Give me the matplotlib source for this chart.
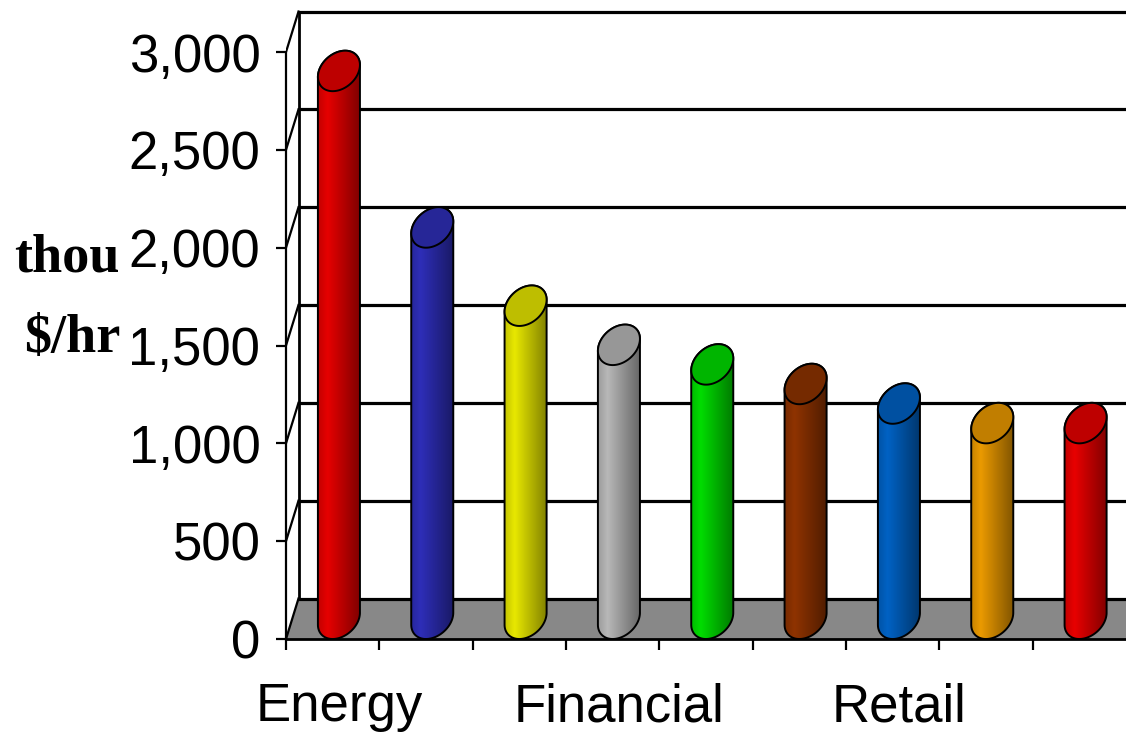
import numpy as np
import matplotlib.pyplot as plt
from matplotlib.patches import Polygon
from matplotlib.colors import to_rgb

# downtime cost per hour by industry (thousand $/hr)
categories = ['Energy', 'Telecom', 'Manufacturing', 'Financial', 'IT',
              'Insurance', 'Retail', 'Pharma', 'Banking']
values = [2800, 2000, 1600, 1400, 1300, 1200, 1100, 1000, 1000]
colors = ['#e60000', '#2e2eb8', '#e8e800', '#b8b8b8', '#00dd00',
          '#8f3300', '#0062c4', '#eb9a00', '#e80000']
shown_labels = ['Energy', 'Financial', 'Retail']
yticks = [0, 500, 1000, 1500, 2000, 2500, 3000]

plt.rcParams['font.family'] = ['Liberation Sans', 'DejaVu Sans']

W, H = 1126, 741
fig = plt.figure(figsize=(W / 100, H / 100), dpi=100)
ax = fig.add_axes([286 / W, (H - 639) / H, (W - 286) / W, 639 / H])

n = len(values)
xmax = 9.0
ymax = 3266
DX, DY = 0.134, 207      # depth offset of the back wall, in data units
RX = 0.215               # cylinder radius along x

# floor
ax.add_patch(Polygon([(0, 0), (xmax + 1, 0), (xmax + 1 + DX, DY), (DX, DY)],
                     closed=True, fc='#888888', ec='none', zorder=1))

# back wall + side wall grid
for v in yticks:
    ax.plot([DX, xmax + 1], [v + DY, v + DY], color='black', lw=2.3, zorder=2)
    ax.plot([0, DX], [v, v + DY], color='black', lw=1.6, zorder=2)
ax.plot([DX, DX], [DY, yticks[-1] + DY], color='black', lw=2.0, zorder=2)


def ellipse(cx, cy, t):
    return cx + RX * np.cos(t) + 0.5 * DX * np.sin(t), cy + 0.5 * DY * np.sin(t)


tR = np.arctan2(0.5 * DX, RX)
hw = np.hypot(RX, 0.5 * DX)
u = np.linspace(0, 1, 64)
shade = np.interp(u, [0, 0.22, 1], [0.85, 1.0, 0.55])

for i, (v, c) in enumerate(zip(values, colors)):
    cx = i + 0.5 + DX / 2
    rgb = np.array(to_rgb(c))
    bx, by = ellipse(cx, 0.5 * DY, np.linspace(tR + np.pi, tR + 2 * np.pi, 60))
    tx, ty = ellipse(cx, v + 0.5 * DY, np.linspace(tR, tR + np.pi, 60))
    pts = np.column_stack([np.r_[bx, tx], np.r_[by, ty]])
    body = Polygon(pts, closed=True, fc=c, ec='none', zorder=3)
    ax.add_patch(body)
    grad = np.clip(rgb[None, None, :] * shade[None, :, None], 0, 1)
    im = ax.imshow(grad, extent=(cx - hw, cx + hw, 0, v + DY), aspect='auto',
                   interpolation='bilinear', zorder=3.1)
    im.set_clip_path(body)
    ax.add_patch(Polygon(pts, closed=True, fc='none', ec='black', lw=1.4, zorder=3.2))
    ex, ey = ellipse(cx, v + 0.5 * DY, np.linspace(0, 2 * np.pi, 100))
    ax.add_patch(Polygon(np.column_stack([ex, ey]), closed=True,
                         fc=tuple(rgb * 0.82), ec='black', lw=1.4, zorder=3.3))

ax.set_xlim(0, xmax)
ax.set_ylim(0, ymax)

for s in ['top', 'right']:
    ax.spines[s].set_visible(False)
ax.spines['left'].set_bounds(0, yticks[-1])
ax.spines['left'].set_linewidth(1.6)
ax.spines['bottom'].set_linewidth(2.0)

ax.set_yticks(yticks, labels=[f'{v:,}' for v in yticks])
ax.tick_params(axis='y', length=7.5, width=1.6, pad=11, labelsize=38)

ax.set_xticks(range(n))
ax.set_xticklabels([])
ax.set_xticks([i + 0.5 + DX / 2 for i in range(n)],
              labels=[c if c in shown_labels else '' for c in categories], minor=True)
ax.tick_params(axis='x', which='major', length=8, width=1.6)
ax.tick_params(axis='x', which='minor', length=0, pad=31, labelsize=38)

fig.text(67 / W, (H - 272) / H, 'thou', family='Liberation Serif', weight='bold',
         fontsize=39, ha='center', va='baseline')
fig.text(72 / W, (H - 352) / H, '$/hr', family='Liberation Serif', weight='bold',
         fontsize=39, ha='center', va='baseline')

fig.savefig('out.png', dpi=100)
